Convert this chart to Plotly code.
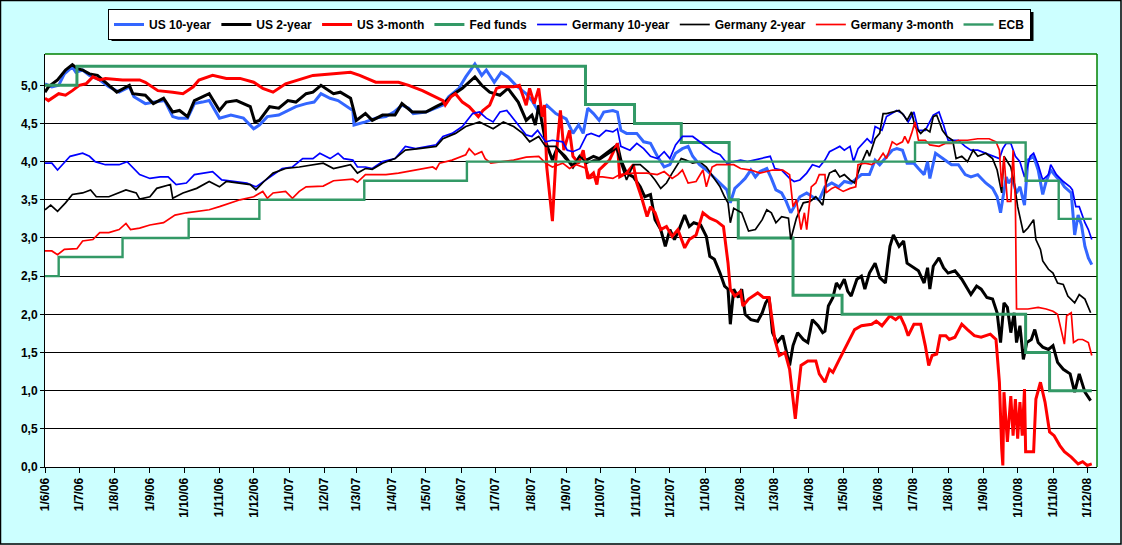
import pandas as pd
import plotly.graph_objects as go

# %%
# values (date, percent)
us_10y = [
    ("2006-06-01", 5.02), ("2006-06-07", 4.98), ("2006-06-13", 5.00), ("2006-06-18", 5.15),
    ("2006-06-25", 5.24), ("2006-06-28", 5.17), ("2006-07-04", 5.20), ("2006-07-10", 5.13),
    ("2006-07-19", 5.07), ("2006-07-27", 4.98), ("2006-08-05", 4.91), ("2006-08-14", 4.98),
    ("2006-08-18", 4.85), ("2006-08-28", 4.76), ("2006-09-05", 4.78), ("2006-09-14", 4.80),
    ("2006-09-21", 4.59), ("2006-09-26", 4.57), ("2006-10-04", 4.57), ("2006-10-10", 4.76),
    ("2006-10-17", 4.78), ("2006-10-23", 4.80), ("2006-11-01", 4.57), ("2006-11-11", 4.61),
    ("2006-11-22", 4.57), ("2006-12-01", 4.43), ("2006-12-06", 4.48), ("2006-12-13", 4.59),
    ("2006-12-23", 4.61), ("2006-12-31", 4.67), ("2007-01-07", 4.72), ("2007-01-16", 4.76),
    ("2007-01-23", 4.78), ("2007-01-29", 4.89), ("2007-02-06", 4.83), ("2007-02-13", 4.80),
    ("2007-02-21", 4.72), ("2007-02-26", 4.67), ("2007-02-27", 4.48), ("2007-03-09", 4.52),
    ("2007-03-18", 4.57), ("2007-03-27", 4.59), ("2007-04-03", 4.65), ("2007-04-10", 4.74),
    ("2007-04-16", 4.70), ("2007-04-20", 4.63), ("2007-05-01", 4.65), ("2007-05-10", 4.70),
    ("2007-05-16", 4.74), ("2007-05-21", 4.85), ("2007-05-30", 4.96), ("2007-06-05", 5.11),
    ("2007-06-13", 5.28), ("2007-06-19", 5.13), ("2007-06-23", 5.20), ("2007-06-30", 5.04),
    ("2007-07-06", 5.17), ("2007-07-12", 5.11), ("2007-07-19", 5.00), ("2007-07-28", 4.89),
    ("2007-08-02", 4.80), ("2007-08-08", 4.65), ("2007-08-15", 4.74), ("2007-08-23", 4.63),
    ("2007-09-01", 4.56), ("2007-09-07", 4.37), ("2007-09-12", 4.48), ("2007-09-16", 4.37),
    ("2007-09-20", 4.70), ("2007-09-25", 4.63), ("2007-09-30", 4.54), ("2007-10-04", 4.65),
    ("2007-10-12", 4.67), ("2007-10-16", 4.65), ("2007-10-19", 4.41), ("2007-10-24", 4.37),
    ("2007-11-02", 4.37), ("2007-11-08", 4.26), ("2007-11-14", 4.24), ("2007-11-20", 4.07),
    ("2007-11-26", 3.93), ("2007-12-01", 3.96), ("2007-12-06", 4.11), ("2007-12-12", 4.17),
    ("2007-12-17", 4.20), ("2007-12-21", 4.07), ("2007-12-27", 3.96), ("2008-01-02", 3.89),
    ("2008-01-08", 3.80), ("2008-01-14", 3.72), ("2008-01-20", 3.63), ("2008-01-23", 3.46),
    ("2008-01-27", 3.65), ("2008-02-01", 3.72), ("2008-02-05", 3.78), ("2008-02-10", 3.89),
    ("2008-02-14", 3.80), ("2008-02-18", 3.87), ("2008-02-24", 3.91), ("2008-02-28", 3.78),
    ("2008-03-03", 3.63), ("2008-03-08", 3.59), ("2008-03-12", 3.48), ("2008-03-16", 3.33),
    ("2008-03-19", 3.41), ("2008-03-24", 3.54), ("2008-03-30", 3.59), ("2008-04-04", 3.54),
    ("2008-04-10", 3.50), ("2008-04-15", 3.67), ("2008-04-21", 3.72), ("2008-04-27", 3.67),
    ("2008-05-02", 3.74), ("2008-05-08", 3.72), ("2008-05-13", 3.78), ("2008-05-17", 3.83),
    ("2008-05-24", 3.83), ("2008-05-29", 4.02), ("2008-06-02", 3.96), ("2008-06-07", 4.04),
    ("2008-06-13", 4.15), ("2008-06-17", 4.17), ("2008-06-22", 4.15), ("2008-06-26", 3.98),
    ("2008-07-02", 3.98), ("2008-07-06", 3.91), ("2008-07-11", 3.83), ("2008-07-14", 4.00),
    ("2008-07-16", 3.78), ("2008-07-21", 4.11), ("2008-07-25", 4.07), ("2008-07-30", 4.02),
    ("2008-08-04", 3.96), ("2008-08-10", 3.96), ("2008-08-16", 3.83), ("2008-08-21", 3.80),
    ("2008-08-27", 3.83), ("2008-09-03", 3.72), ("2008-09-09", 3.65), ("2008-09-13", 3.54),
    ("2008-09-16", 3.33), ("2008-09-21", 3.80), ("2008-09-23", 3.72), ("2008-09-26", 3.78),
    ("2008-09-30", 3.59), ("2008-10-03", 3.67), ("2008-10-07", 3.43), ("2008-10-10", 4.02),
    ("2008-10-15", 4.07), ("2008-10-19", 3.89), ("2008-10-23", 3.57), ("2008-10-26", 3.74),
    ("2008-10-30", 3.89), ("2008-11-04", 3.80), ("2008-11-08", 3.74), ("2008-11-11", 3.67),
    ("2008-11-14", 3.63), ("2008-11-17", 3.59), ("2008-11-20", 3.04), ("2008-11-23", 3.30),
    ("2008-11-26", 3.17), ("2008-11-29", 2.89), ("2008-12-02", 2.74), ("2008-12-05", 2.65),
]

us_2y = [
    ("2006-06-01", 4.91), ("2006-06-04", 4.98), ("2006-06-12", 5.07), ("2006-06-19", 5.20),
    ("2006-06-25", 5.27), ("2006-06-29", 5.22), ("2006-07-04", 5.20), ("2006-07-10", 5.15),
    ("2006-07-17", 5.13), ("2006-07-27", 5.00), ("2006-08-03", 4.91), ("2006-08-14", 5.00),
    ("2006-08-17", 4.89), ("2006-08-28", 4.87), ("2006-09-04", 4.76), ("2006-09-13", 4.83),
    ("2006-09-21", 4.65), ("2006-09-27", 4.67), ("2006-10-04", 4.59), ("2006-10-10", 4.80),
    ("2006-10-23", 4.89), ("2006-11-01", 4.67), ("2006-11-07", 4.78), ("2006-11-16", 4.80),
    ("2006-11-28", 4.72), ("2006-12-02", 4.52), ("2006-12-06", 4.54), ("2006-12-15", 4.72),
    ("2006-12-23", 4.70), ("2006-12-31", 4.80), ("2007-01-07", 4.78), ("2007-01-16", 4.89),
    ("2007-01-22", 4.91), ("2007-01-29", 5.00), ("2007-02-09", 4.89), ("2007-02-15", 4.91),
    ("2007-02-24", 4.83), ("2007-03-01", 4.54), ("2007-03-09", 4.63), ("2007-03-15", 4.54),
    ("2007-03-24", 4.61), ("2007-04-04", 4.61), ("2007-04-10", 4.76), ("2007-04-19", 4.65),
    ("2007-05-01", 4.65), ("2007-05-10", 4.72), ("2007-05-18", 4.78), ("2007-05-24", 4.87),
    ("2007-06-02", 4.96), ("2007-06-13", 5.11), ("2007-06-19", 5.00), ("2007-06-26", 4.91),
    ("2007-07-05", 4.87), ("2007-07-12", 4.96), ("2007-07-21", 4.78), ("2007-07-28", 4.54),
    ("2007-08-02", 4.61), ("2007-08-05", 4.48), ("2007-08-08", 4.74), ("2007-08-14", 4.26),
    ("2007-08-20", 4.02), ("2007-08-24", 4.17), ("2007-08-31", 4.07), ("2007-09-07", 3.93),
    ("2007-09-13", 4.07), ("2007-09-19", 4.02), ("2007-09-25", 4.07), ("2007-09-30", 4.04),
    ("2007-10-06", 4.11), ("2007-10-12", 4.17), ("2007-10-16", 4.22), ("2007-10-19", 4.02),
    ("2007-10-24", 3.85), ("2007-10-30", 3.80), ("2007-11-05", 3.67), ("2007-11-09", 3.54),
    ("2007-11-14", 3.57), ("2007-11-18", 3.24), ("2007-11-23", 3.11), ("2007-11-27", 2.89),
    ("2007-12-01", 3.11), ("2007-12-05", 2.98), ("2007-12-09", 3.11), ("2007-12-14", 3.30),
    ("2007-12-18", 3.15), ("2007-12-22", 3.20), ("2007-12-28", 3.17), ("2008-01-02", 3.02),
    ("2008-01-05", 2.76), ("2008-01-09", 2.72), ("2008-01-14", 2.54), ("2008-01-18", 2.37),
    ("2008-01-21", 2.33), ("2008-01-23", 1.87), ("2008-01-26", 2.33), ("2008-01-30", 2.22),
    ("2008-02-02", 2.33), ("2008-02-05", 2.00), ("2008-02-10", 1.93), ("2008-02-16", 1.91),
    ("2008-02-20", 2.02), ("2008-02-23", 2.15), ("2008-02-26", 2.22), ("2008-02-29", 1.76),
    ("2008-03-04", 1.63), ("2008-03-09", 1.72), ("2008-03-12", 1.54), ("2008-03-15", 1.33),
    ("2008-03-18", 1.59), ("2008-03-22", 1.76), ("2008-03-27", 1.67), ("2008-03-31", 1.63),
    ("2008-04-04", 1.93), ("2008-04-09", 1.85), ("2008-04-13", 1.76), ("2008-04-15", 1.78),
    ("2008-04-18", 2.11), ("2008-04-22", 2.22), ("2008-04-25", 2.41), ("2008-04-28", 2.35),
    ("2008-05-02", 2.46), ("2008-05-05", 2.30), ("2008-05-08", 2.24), ("2008-05-13", 2.46),
    ("2008-05-17", 2.50), ("2008-05-20", 2.33), ("2008-05-24", 2.54), ("2008-05-29", 2.67),
    ("2008-06-02", 2.48), ("2008-06-07", 2.41), ("2008-06-11", 2.89), ("2008-06-14", 3.04),
    ("2008-06-19", 2.89), ("2008-06-23", 2.96), ("2008-06-26", 2.67), ("2008-07-02", 2.61),
    ("2008-07-06", 2.57), ("2008-07-11", 2.41), ("2008-07-14", 2.61), ("2008-07-16", 2.33),
    ("2008-07-19", 2.63), ("2008-07-24", 2.74), ("2008-07-28", 2.61), ("2008-08-01", 2.54),
    ("2008-08-07", 2.57), ("2008-08-13", 2.46), ("2008-08-18", 2.33), ("2008-08-21", 2.26),
    ("2008-08-26", 2.37), ("2008-08-30", 2.33), ("2008-09-04", 2.22), ("2008-09-09", 2.20),
    ("2008-09-13", 2.02), ("2008-09-16", 1.63), ("2008-09-19", 2.15), ("2008-09-22", 2.09),
    ("2008-09-25", 1.76), ("2008-09-28", 2.02), ("2008-09-30", 1.63), ("2008-10-03", 1.85),
    ("2008-10-06", 1.41), ("2008-10-09", 1.63), ("2008-10-13", 1.67), ("2008-10-16", 1.80),
    ("2008-10-19", 1.63), ("2008-10-23", 1.57), ("2008-10-28", 1.54), ("2008-11-01", 1.59),
    ("2008-11-05", 1.37), ("2008-11-10", 1.28), ("2008-11-16", 1.22), ("2008-11-20", 0.98),
    ("2008-11-24", 1.22), ("2008-11-29", 0.98), ("2008-12-04", 0.87),
]

us_3m = [
    ("2006-06-01", 4.83), ("2006-06-04", 4.80), ("2006-06-13", 4.89), ("2006-06-19", 4.87),
    ("2006-06-25", 4.93), ("2006-07-01", 5.00), ("2006-07-07", 5.02), ("2006-07-13", 5.11),
    ("2006-07-19", 5.07), ("2006-07-24", 5.09), ("2006-08-08", 5.07), ("2006-08-23", 5.07),
    ("2006-08-28", 5.04), ("2006-09-08", 4.93), ("2006-09-21", 4.91), ("2006-09-30", 4.89),
    ("2006-10-09", 4.98), ("2006-10-14", 5.07), ("2006-10-26", 5.13), ("2006-11-07", 5.09),
    ("2006-11-19", 5.09), ("2006-12-01", 5.04), ("2006-12-09", 4.96), ("2006-12-18", 4.91),
    ("2006-12-29", 5.02), ("2007-01-10", 5.07), ("2007-01-22", 5.13), ("2007-02-09", 5.15),
    ("2007-02-24", 5.17), ("2007-03-04", 5.13), ("2007-03-18", 5.04), ("2007-04-07", 5.04),
    ("2007-04-16", 5.00), ("2007-04-28", 4.93), ("2007-05-07", 4.87), ("2007-05-16", 4.80),
    ("2007-05-18", 4.74), ("2007-05-23", 4.85), ("2007-05-27", 4.89), ("2007-06-02", 4.78),
    ("2007-06-08", 4.72), ("2007-06-16", 4.59), ("2007-06-20", 4.67), ("2007-06-26", 4.74),
    ("2007-07-02", 4.96), ("2007-07-06", 4.98), ("2007-07-17", 4.98), ("2007-07-22", 5.00),
    ("2007-07-28", 4.74), ("2007-07-31", 4.96), ("2007-08-04", 4.76), ("2007-08-08", 4.96),
    ("2007-08-11", 4.59), ("2007-08-13", 4.74), ("2007-08-15", 3.93), ("2007-08-20", 3.22),
    ("2007-08-23", 4.02), ("2007-08-27", 4.67), ("2007-08-30", 4.15), ("2007-09-04", 4.41),
    ("2007-09-07", 4.07), ("2007-09-12", 3.98), ("2007-09-16", 4.15), ("2007-09-20", 3.78),
    ("2007-09-25", 3.85), ("2007-09-28", 3.70), ("2007-09-30", 3.89), ("2007-10-09", 4.02),
    ("2007-10-16", 4.24), ("2007-10-18", 3.80), ("2007-10-24", 3.85), ("2007-10-30", 3.96),
    ("2007-11-02", 3.72), ("2007-11-06", 3.54), ("2007-11-11", 3.28), ("2007-11-14", 3.41),
    ("2007-11-18", 3.33), ("2007-11-23", 3.11), ("2007-11-28", 3.15), ("2007-12-03", 3.02),
    ("2007-12-08", 3.11), ("2007-12-14", 2.87), ("2007-12-18", 2.98), ("2007-12-24", 3.04),
    ("2007-12-30", 3.33), ("2008-01-05", 3.26), ("2008-01-11", 3.22), ("2008-01-17", 3.15),
    ("2008-01-21", 2.67), ("2008-01-23", 2.33), ("2008-01-27", 2.24), ("2008-02-01", 2.30),
    ("2008-02-03", 2.11), ("2008-02-08", 2.20), ("2008-02-16", 2.28), ("2008-02-21", 2.22),
    ("2008-02-26", 2.22), ("2008-02-28", 1.98), ("2008-03-02", 1.67), ("2008-03-06", 1.46),
    ("2008-03-11", 1.50), ("2008-03-15", 1.28), ("2008-03-18", 0.89), ("2008-03-20", 0.63),
    ("2008-03-22", 0.93), ("2008-03-25", 1.33), ("2008-03-31", 1.39), ("2008-04-07", 1.39),
    ("2008-04-10", 1.22), ("2008-04-15", 1.11), ("2008-04-19", 1.28), ("2008-04-22", 1.24),
    ("2008-04-27", 1.39), ("2008-05-02", 1.54), ("2008-05-07", 1.67), ("2008-05-11", 1.80),
    ("2008-05-17", 1.85), ("2008-05-26", 1.87), ("2008-05-30", 1.91), ("2008-06-04", 1.85),
    ("2008-06-11", 1.98), ("2008-06-16", 1.93), ("2008-06-20", 1.98), ("2008-06-24", 1.85),
    ("2008-06-27", 1.72), ("2008-07-02", 1.87), ("2008-07-08", 1.87), ("2008-07-12", 1.59),
    ("2008-07-15", 1.33), ("2008-07-18", 1.46), ("2008-07-22", 1.48), ("2008-07-25", 1.72),
    ("2008-07-30", 1.72), ("2008-08-02", 1.67), ("2008-08-07", 1.70), ("2008-08-13", 1.87),
    ("2008-08-18", 1.80), ("2008-08-24", 1.72), ("2008-08-30", 1.70), ("2008-09-07", 1.74),
    ("2008-09-12", 1.67), ("2008-09-15", 1.11), ("2008-09-17", 0.24), ("2008-09-18", 0.02),
    ("2008-09-19", 0.98), ("2008-09-22", 0.33), ("2008-09-25", 0.93), ("2008-09-27", 0.41),
    ("2008-09-29", 0.89), ("2008-10-01", 0.37), ("2008-10-03", 0.85), ("2008-10-05", 0.41),
    ("2008-10-07", 1.02), ("2008-10-08", 0.20), ("2008-10-15", 0.20), ("2008-10-17", 0.89),
    ("2008-10-21", 1.11), ("2008-10-25", 0.85), ("2008-10-29", 0.46), ("2008-11-02", 0.41),
    ("2008-11-07", 0.28), ("2008-11-11", 0.20), ("2008-11-17", 0.13), ("2008-11-23", 0.04),
    ("2008-11-27", 0.07), ("2008-12-01", 0.02), ("2008-12-05", 0.04),
]

fed_funds = [
    ("2006-06-01", 5.00), ("2006-06-29", 5.25), ("2007-09-18", 4.75), ("2007-10-31", 4.50),
    ("2007-12-11", 4.25), ("2008-01-22", 3.50), ("2008-01-30", 3.00), ("2008-03-18", 2.25),
    ("2008-04-30", 2.00), ("2008-10-08", 1.50), ("2008-10-29", 1.00), ("2008-12-05", 1.00),
]

de_10y = [
    ("2006-06-01", 3.98), ("2006-06-07", 3.98), ("2006-06-12", 3.89), ("2006-06-16", 3.96),
    ("2006-06-23", 4.07), ("2006-07-04", 4.11), ("2006-07-10", 4.07), ("2006-07-15", 4.00),
    ("2006-07-24", 3.96), ("2006-08-05", 3.96), ("2006-08-12", 4.00), ("2006-08-23", 3.83),
    ("2006-09-01", 3.78), ("2006-09-10", 3.80), ("2006-09-17", 3.80), ("2006-09-24", 3.70),
    ("2006-10-03", 3.72), ("2006-10-10", 3.83), ("2006-10-20", 3.85), ("2006-10-26", 3.87),
    ("2006-11-03", 3.76), ("2006-11-13", 3.74), ("2006-11-25", 3.72), ("2006-12-03", 3.67),
    ("2006-12-12", 3.76), ("2006-12-18", 3.83), ("2006-12-26", 3.91), ("2007-01-04", 3.93),
    ("2007-01-13", 4.04), ("2007-01-22", 4.04), ("2007-01-28", 4.11), ("2007-02-06", 4.04),
    ("2007-02-13", 4.11), ("2007-02-18", 4.04), ("2007-02-26", 4.02), ("2007-03-02", 3.93),
    ("2007-03-09", 3.93), ("2007-03-15", 3.91), ("2007-03-24", 4.00), ("2007-04-04", 4.04),
    ("2007-04-13", 4.20), ("2007-04-22", 4.17), ("2007-05-01", 4.20), ("2007-05-10", 4.22),
    ("2007-05-16", 4.33), ("2007-05-24", 4.37), ("2007-06-02", 4.46), ("2007-06-11", 4.63),
    ("2007-06-17", 4.65), ("2007-06-23", 4.57), ("2007-06-29", 4.52), ("2007-07-05", 4.65),
    ("2007-07-11", 4.67), ("2007-07-19", 4.52), ("2007-07-28", 4.35), ("2007-08-02", 4.33),
    ("2007-08-07", 4.41), ("2007-08-14", 4.26), ("2007-08-20", 4.28), ("2007-08-29", 4.26),
    ("2007-09-02", 4.15), ("2007-09-07", 4.13), ("2007-09-13", 4.17), ("2007-09-19", 4.35),
    ("2007-09-23", 4.37), ("2007-09-30", 4.33), ("2007-10-06", 4.41), ("2007-10-12", 4.39),
    ("2007-10-16", 4.43), ("2007-10-19", 4.20), ("2007-10-27", 4.15), ("2007-11-02", 4.24),
    ("2007-11-08", 4.17), ("2007-11-14", 4.07), ("2007-11-20", 4.04), ("2007-11-26", 4.13),
    ("2007-12-01", 4.04), ("2007-12-06", 4.22), ("2007-12-12", 4.33), ("2007-12-21", 4.33),
    ("2007-12-27", 4.26), ("2008-01-02", 4.20), ("2008-01-08", 4.13), ("2008-01-14", 4.09),
    ("2008-01-20", 3.98), ("2008-01-26", 4.00), ("2008-02-01", 4.02), ("2008-02-07", 4.00),
    ("2008-02-13", 4.02), ("2008-02-18", 4.04), ("2008-02-27", 4.07), ("2008-03-02", 3.91),
    ("2008-03-08", 3.89), ("2008-03-15", 3.78), ("2008-03-19", 3.74), ("2008-03-24", 3.76),
    ("2008-03-30", 3.85), ("2008-04-04", 3.96), ("2008-04-10", 3.93), ("2008-04-15", 4.02),
    ("2008-04-19", 4.13), ("2008-04-24", 4.17), ("2008-04-28", 4.20), ("2008-05-02", 4.15),
    ("2008-05-07", 4.20), ("2008-05-10", 4.00), ("2008-05-14", 4.17), ("2008-05-22", 4.30),
    ("2008-05-26", 4.24), ("2008-05-29", 4.46), ("2008-06-04", 4.41), ("2008-06-08", 4.59),
    ("2008-06-13", 4.63), ("2008-06-17", 4.67), ("2008-06-22", 4.63), ("2008-06-27", 4.52),
    ("2008-07-02", 4.65), ("2008-07-06", 4.41), ("2008-07-12", 4.41), ("2008-07-16", 4.52),
    ("2008-07-19", 4.61), ("2008-07-24", 4.65), ("2008-07-28", 4.48), ("2008-08-01", 4.28),
    ("2008-08-10", 4.28), ("2008-08-16", 4.20), ("2008-08-21", 4.15), ("2008-08-27", 4.15),
    ("2008-09-03", 4.11), ("2008-09-09", 4.07), ("2008-09-15", 4.04), ("2008-09-18", 4.17),
    ("2008-09-21", 4.24), ("2008-09-25", 4.24), ("2008-09-29", 4.07), ("2008-10-03", 4.00),
    ("2008-10-07", 3.80), ("2008-10-12", 4.07), ("2008-10-15", 4.11), ("2008-10-19", 3.96),
    ("2008-10-23", 3.76), ("2008-10-28", 3.83), ("2008-10-30", 3.96), ("2008-11-04", 3.83),
    ("2008-11-10", 3.74), ("2008-11-16", 3.67), ("2008-11-18", 3.63), ("2008-11-21", 3.41),
    ("2008-11-24", 3.41), ("2008-11-29", 3.20), ("2008-12-02", 3.11), ("2008-12-05", 2.98),
]

de_2y = [
    ("2006-06-01", 3.37), ("2006-06-06", 3.43), ("2006-06-12", 3.35), ("2006-06-19", 3.46),
    ("2006-06-25", 3.57), ("2006-07-04", 3.59), ("2006-07-11", 3.63), ("2006-07-16", 3.54),
    ("2006-07-27", 3.54), ("2006-08-11", 3.63), ("2006-08-20", 3.59), ("2006-08-23", 3.51),
    ("2006-09-01", 3.54), ("2006-09-07", 3.65), ("2006-09-19", 3.70), ("2006-09-21", 3.52),
    ("2006-09-30", 3.59), ("2006-10-12", 3.65), ("2006-10-23", 3.74), ("2006-11-01", 3.67),
    ("2006-11-07", 3.74), ("2006-11-19", 3.72), ("2006-11-28", 3.70), ("2006-12-03", 3.63),
    ("2006-12-10", 3.74), ("2006-12-18", 3.85), ("2006-12-29", 3.91), ("2007-01-10", 3.93),
    ("2007-01-22", 3.96), ("2007-01-31", 3.98), ("2007-02-09", 3.91), ("2007-02-24", 3.96),
    ("2007-03-02", 3.85), ("2007-03-09", 3.91), ("2007-03-15", 3.90), ("2007-03-24", 3.98),
    ("2007-04-04", 4.04), ("2007-04-13", 4.15), ("2007-04-25", 4.17), ("2007-05-10", 4.20),
    ("2007-05-16", 4.30), ("2007-05-27", 4.37), ("2007-06-05", 4.46), ("2007-06-17", 4.52),
    ("2007-06-29", 4.43), ("2007-07-08", 4.52), ("2007-07-17", 4.46), ("2007-07-25", 4.37),
    ("2007-07-31", 4.26), ("2007-08-08", 4.33), ("2007-08-14", 4.20), ("2007-08-23", 4.20),
    ("2007-08-31", 4.04), ("2007-09-07", 3.96), ("2007-09-13", 4.07), ("2007-09-19", 3.98),
    ("2007-09-25", 4.02), ("2007-09-30", 4.02), ("2007-10-09", 4.11), ("2007-10-15", 4.17),
    ("2007-10-19", 3.98), ("2007-10-24", 3.76), ("2007-10-30", 3.96), ("2007-11-05", 3.96),
    ("2007-11-12", 3.87), ("2007-11-18", 3.76), ("2007-11-23", 3.65), ("2007-11-28", 3.72),
    ("2007-12-03", 3.85), ("2007-12-11", 4.04), ("2007-12-15", 4.02), ("2007-12-21", 3.98),
    ("2007-12-27", 4.00), ("2008-01-02", 3.93), ("2008-01-08", 3.80), ("2008-01-14", 3.67),
    ("2008-01-18", 3.54), ("2008-01-21", 3.46), ("2008-01-23", 3.20), ("2008-01-26", 3.39),
    ("2008-02-02", 3.33), ("2008-02-08", 3.09), ("2008-02-14", 3.11), ("2008-02-20", 3.24),
    ("2008-02-24", 3.37), ("2008-02-28", 3.33), ("2008-03-03", 3.20), ("2008-03-08", 3.28),
    ("2008-03-14", 3.26), ("2008-03-16", 2.98), ("2008-03-21", 3.26), ("2008-03-27", 3.46),
    ("2008-04-02", 3.48), ("2008-04-07", 3.54), ("2008-04-13", 3.43), ("2008-04-16", 3.72),
    ("2008-04-19", 3.85), ("2008-04-24", 3.89), ("2008-04-28", 3.80), ("2008-05-02", 3.83),
    ("2008-05-07", 3.76), ("2008-05-11", 3.72), ("2008-05-17", 3.98), ("2008-05-22", 4.15),
    ("2008-05-24", 4.07), ("2008-05-29", 4.30), ("2008-06-02", 4.37), ("2008-06-05", 4.63),
    ("2008-06-08", 4.63), ("2008-06-13", 4.65), ("2008-06-19", 4.67), ("2008-06-23", 4.61),
    ("2008-06-26", 4.54), ("2008-06-30", 4.65), ("2008-07-03", 4.46), ("2008-07-08", 4.37),
    ("2008-07-12", 4.43), ("2008-07-16", 4.39), ("2008-07-19", 4.59), ("2008-07-22", 4.61),
    ("2008-07-27", 4.41), ("2008-07-31", 4.33), ("2008-08-05", 4.28), ("2008-08-08", 4.04),
    ("2008-08-13", 4.07), ("2008-08-18", 4.00), ("2008-08-23", 4.15), ("2008-08-27", 4.07),
    ("2008-09-03", 4.11), ("2008-09-09", 4.04), ("2008-09-13", 3.89), ("2008-09-17", 3.59),
    ("2008-09-19", 4.07), ("2008-09-25", 3.93), ("2008-09-28", 3.72), ("2008-10-01", 3.41),
    ("2008-10-06", 3.07), ("2008-10-10", 3.13), ("2008-10-15", 3.24), ("2008-10-17", 2.98),
    ("2008-10-21", 2.85), ("2008-10-23", 2.70), ("2008-10-28", 2.59), ("2008-11-01", 2.54),
    ("2008-11-05", 2.41), ("2008-11-10", 2.39), ("2008-11-14", 2.24), ("2008-11-20", 2.15),
    ("2008-11-24", 2.26), ("2008-11-29", 2.20), ("2008-12-04", 2.02),
]

de_3m = [
    ("2006-06-01", 2.83), ("2006-06-07", 2.83), ("2006-06-12", 2.78), ("2006-06-18", 2.85),
    ("2006-06-29", 2.86), ("2006-07-04", 2.96), ("2006-07-13", 2.98), ("2006-07-19", 3.07),
    ("2006-07-27", 3.07), ("2006-08-05", 3.11), ("2006-08-11", 3.19), ("2006-08-15", 3.11),
    ("2006-08-23", 3.13), ("2006-09-01", 3.17), ("2006-09-13", 3.20), ("2006-09-23", 3.30),
    ("2006-10-03", 3.33), ("2006-10-12", 3.35), ("2006-10-23", 3.37), ("2006-11-01", 3.41),
    ("2006-11-10", 3.46), ("2006-11-19", 3.50), ("2006-12-01", 3.54), ("2006-12-09", 3.61),
    ("2006-12-13", 3.52), ("2006-12-18", 3.59), ("2006-12-29", 3.61), ("2007-01-04", 3.52),
    ("2007-01-10", 3.61), ("2007-01-16", 3.67), ("2007-01-31", 3.68), ("2007-02-09", 3.75),
    ("2007-02-26", 3.77), ("2007-03-02", 3.73), ("2007-03-09", 3.83), ("2007-03-27", 3.83),
    ("2007-04-07", 3.85), ("2007-04-22", 3.89), ("2007-05-07", 3.93), ("2007-05-10", 3.90),
    ("2007-05-13", 3.98), ("2007-05-24", 4.02), ("2007-06-05", 4.09), ("2007-06-08", 4.17),
    ("2007-06-13", 4.09), ("2007-06-19", 4.13), ("2007-06-22", 4.04), ("2007-06-27", 3.98),
    ("2007-07-08", 4.00), ("2007-07-17", 4.02), ("2007-07-28", 4.06), ("2007-08-08", 4.07),
    ("2007-08-14", 3.98), ("2007-08-20", 3.93), ("2007-08-29", 3.98), ("2007-09-04", 3.91),
    ("2007-09-10", 3.96), ("2007-09-19", 3.91), ("2007-09-22", 3.78), ("2007-09-25", 3.80),
    ("2007-10-03", 3.80), ("2007-10-12", 3.78), ("2007-10-18", 3.83), ("2007-10-30", 3.85),
    ("2007-11-11", 3.85), ("2007-11-20", 3.83), ("2007-11-26", 3.87), ("2007-12-03", 3.78),
    ("2007-12-08", 3.83), ("2007-12-12", 3.89), ("2007-12-17", 3.72), ("2007-12-24", 3.74),
    ("2007-12-30", 3.89), ("2008-01-02", 3.67), ("2008-01-07", 3.93), ("2008-01-11", 3.96),
    ("2008-01-20", 3.96), ("2008-01-26", 3.96), ("2008-02-01", 3.91), ("2008-02-10", 3.89),
    ("2008-02-18", 3.85), ("2008-02-29", 3.89), ("2008-03-09", 3.89), ("2008-03-15", 3.83),
    ("2008-03-18", 3.41), ("2008-03-21", 3.50), ("2008-03-25", 3.11), ("2008-03-28", 3.33),
    ("2008-03-30", 3.11), ("2008-04-03", 3.67), ("2008-04-07", 3.72), ("2008-04-10", 3.83),
    ("2008-04-15", 3.83), ("2008-04-16", 3.59), ("2008-04-21", 3.65), ("2008-04-24", 3.67),
    ("2008-05-01", 3.61), ("2008-05-07", 3.65), ("2008-05-12", 3.67), ("2008-05-14", 3.96),
    ("2008-05-20", 3.98), ("2008-05-26", 3.96), ("2008-06-01", 4.02), ("2008-06-05", 4.11),
    ("2008-06-08", 4.04), ("2008-06-13", 4.26), ("2008-06-17", 4.22), ("2008-06-22", 4.26),
    ("2008-06-24", 4.33), ("2008-06-27", 4.24), ("2008-06-30", 4.37), ("2008-07-03", 4.52),
    ("2008-07-06", 4.28), ("2008-07-12", 4.28), ("2008-07-16", 4.22), ("2008-07-24", 4.20),
    ("2008-07-30", 4.24), ("2008-08-04", 4.24), ("2008-08-10", 4.28), ("2008-08-18", 4.28),
    ("2008-08-27", 4.30), ("2008-09-06", 4.30), ("2008-09-12", 4.26), ("2008-09-15", 4.15),
    ("2008-09-17", 3.67), ("2008-09-19", 4.07), ("2008-09-22", 3.48), ("2008-09-25", 3.48),
    ("2008-09-27", 4.15), ("2008-09-29", 3.48), ("2008-09-30", 2.07), ("2008-10-04", 2.07),
    ("2008-10-10", 2.07), ("2008-10-19", 2.09), ("2008-10-26", 2.07), ("2008-11-01", 2.04),
    ("2008-11-05", 2.00), ("2008-11-11", 1.61), ("2008-11-13", 1.98), ("2008-11-17", 2.02),
    ("2008-11-19", 1.63), ("2008-11-23", 1.67), ("2008-11-27", 1.67), ("2008-12-02", 1.63),
    ("2008-12-05", 1.46),
]

ecb = [
    ("2006-06-01", 2.50), ("2006-06-13", 2.75), ("2006-08-08", 3.00), ("2006-10-05", 3.25),
    ("2006-12-06", 3.50), ("2007-03-08", 3.75), ("2007-06-06", 4.00), ("2008-07-03", 4.25),
    ("2008-10-08", 3.75), ("2008-11-06", 3.25), ("2008-12-05", 3.25),
]

# %%
series = [
    ("US 10-year", us_10y, "#3366FF", 3, "linear"),
    ("US 2-year", us_2y, "#000000", 3, "linear"),
    ("US 3-month", us_3m, "#FF0000", 3, "linear"),
    ("Fed funds", fed_funds, "#339966", 3, "hv"),
    ("Germany 10-year", de_10y, "#0000FF", 1.7, "linear"),
    ("Germany 2-year", de_2y, "#000000", 1.7, "linear"),
    ("Germany 3-month", de_3m, "#FF0000", 1.7, "linear"),
    ("ECB", ecb, "#339966", 2.4, "hv"),
]

month_ticks = pd.date_range("2006-06-01", "2008-12-01", freq="MS")
tick_text = [f"{d.day}/{d.month}/{d.strftime('%y')}" for d in month_ticks]

fig = go.Figure()
for name, data, color, width, shape in series:
    df = pd.DataFrame(data, columns=["fecha", "tasa"])
    df["fecha"] = pd.to_datetime(df["fecha"])
    fig.add_trace(
        go.Scatter(
            x=df["fecha"],
            y=df["tasa"],
            mode="lines",
            name=f"<b>{name}</b>",
            line=dict(color=color, width=width, shape=shape),
            hoverinfo="skip",
        )
    )

# %%
W, H = 1122, 545
ml, mr, mt, mb = 45, 25, 54, 78
pw, ph = W - ml - mr, H - mt - mb

# legend geometry (pixels), centred like the original box
leg_cx, leg_w, leg_top, leg_h = 569.5, 922, 9, 29


def px_x(p):
    return (p - ml) / pw


def px_y(p):
    return 1 - (p - mt) / ph


shapes = [
    # green border on top and right of the plot area
    dict(type="line", xref="paper", yref="paper", x0=0, x1=1, y0=1, y1=1,
         line=dict(color="#008000", width=1.5)),
    dict(type="line", xref="paper", yref="paper", x0=1, x1=1, y0=0, y1=1,
         line=dict(color="#008000", width=1.5)),
    # legend shadow
    dict(type="rect", xref="paper", yref="paper",
         x0=px_x(leg_cx - leg_w / 2 + 3), x1=px_x(leg_cx + leg_w / 2 + 3),
         y0=px_y(leg_top + leg_h + 3), y1=px_y(leg_top + 3),
         fillcolor="black", line=dict(width=0), layer="below"),
    # outer frame
    dict(type="rect", xref="paper", yref="paper", x0=px_x(0.5), x1=px_x(W - 1),
         y0=px_y(H - 1), y1=px_y(0.5), line=dict(color="black", width=1.5)),
]

fig.update_layout(
    width=W,
    height=H,
    margin=dict(l=ml, r=mr, t=mt, b=mb),
    paper_bgcolor="#CCFFFF",
    plot_bgcolor="white",
    font=dict(family="Liberation Sans, Arial", size=12, color="black"),
    showlegend=True,
    legend=dict(
        orientation="h",
        xref="container",
        yref="container",
        x=leg_cx / W,
        y=1 - leg_top / H,
        xanchor="center",
        yanchor="top",
        bgcolor="white",
        bordercolor="black",
        borderwidth=1,
        font=dict(size=12, family="Liberation Sans, Arial"),
        itemwidth=30,
    ),
    shapes=shapes,
    xaxis=dict(
        range=["2006-06-01", "2008-12-09 14:00"],
        tickvals=month_ticks,
        ticktext=[f"<b>{t}</b>" for t in tick_text],
        tickangle=-90,
        ticks="outside",
        ticklen=5,
        tickcolor="black",
        showgrid=False,
        showline=True,
        linecolor="black",
        linewidth=1,
        zeroline=False,
        automargin=False,
        tickfont=dict(size=12),
    ),
    yaxis=dict(
        range=[0, 5.41],
        tickvals=[i * 0.5 for i in range(11)],
        ticktext=[f"<b>{i * 0.5:.1f}</b>".replace(".", ",") for i in range(11)],
        ticks="outside",
        ticklen=4,
        tickcolor="black",
        showgrid=True,
        gridcolor="black",
        gridwidth=1,
        showline=True,
        linecolor="black",
        linewidth=1,
        zeroline=False,
        automargin=False,
        tickfont=dict(size=12),
    ),
)

fig.write_html(
    "out.html",
    config={"displayModeBar": False},
    post_script="document.body.style.margin='0';",
)
